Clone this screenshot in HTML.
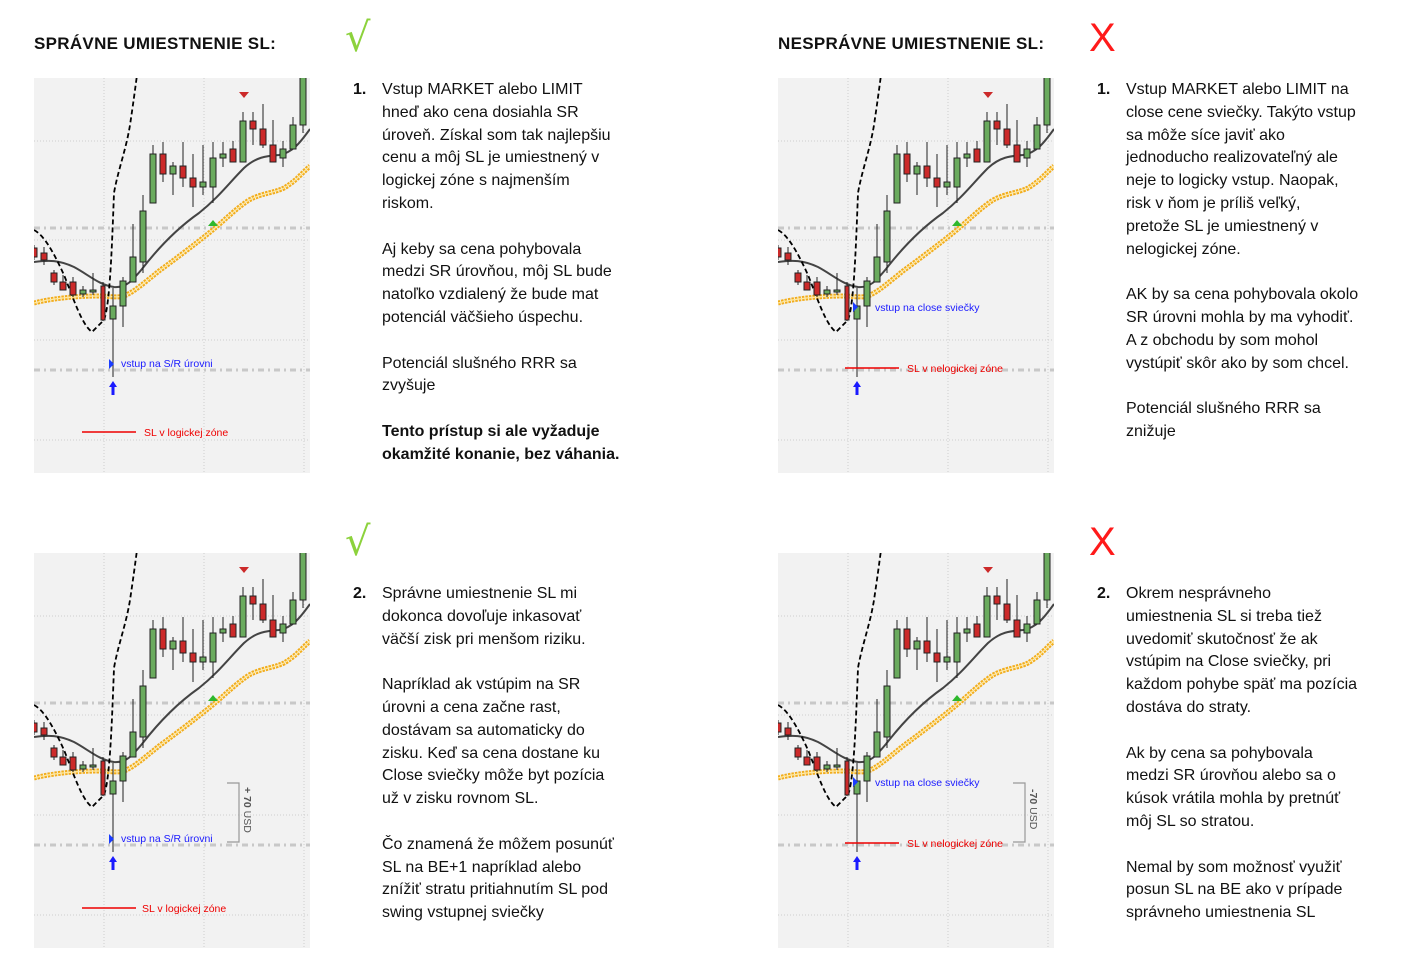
<!DOCTYPE html>
<html><head><meta charset="utf-8">
<style>
html,body{margin:0;padding:0;background:#fff;}
body{width:1426px;height:971px;position:relative;overflow:hidden;font-family:"Liberation Sans",sans-serif;}
.h{position:absolute;font-weight:bold;font-size:17px;color:#111;letter-spacing:0.3px;}
.ok{position:absolute;color:#8cd23c;font-size:40px;font-family:"DejaVu Sans",sans-serif;line-height:40px;}
.x{position:absolute;color:#ff1a1a;font-size:40px;line-height:40px;}
.t{position:absolute;font-size:16px;line-height:22.8px;color:#111;white-space:nowrap;}
.n{position:absolute;font-weight:bold;font-size:16px;line-height:22.8px;color:#111;}
svg{position:absolute;left:0;top:0;}
</style></head><body>
<svg width="1426" height="971" viewBox="0 0 1426 971">
<defs>
<clipPath id="cp"><rect x="0" y="3" width="276" height="395"/></clipPath>
<symbol id="c" viewBox="0 0 276 400" width="276" height="400" overflow="hidden">
<g clip-path="url(#cp)">
<rect x="0" y="3" width="276" height="395" fill="#f2f2f2"/>
<g stroke="#cfcfcf" stroke-width="1" stroke-dasharray="1,2">
<line x1="70" y1="3" x2="70" y2="398"/><line x1="170" y1="3" x2="170" y2="398"/><line x1="270" y1="3" x2="270" y2="398"/>
<line x1="0" y1="66" x2="276" y2="66"/><line x1="0" y1="165" x2="276" y2="165"/><line x1="0" y1="265" x2="276" y2="265"/><line x1="0" y1="365" x2="276" y2="365"/>
</g>
<g stroke="#c8c8c8" stroke-width="3" stroke-dasharray="6,4,2,4">
<line x1="0" y1="153" x2="276" y2="153"/><line x1="0" y1="295" x2="276" y2="295"/>
</g>
<path d="M0,228 C15,224 40,221 65,221 C75,221 82,223 90,221 C100,217 110,208 125,196 C140,185 160,170 175,158 C190,146 200,135 215,125 C228,118 240,118 250,113 C262,106 268,98 276,91" fill="none" stroke="#f2ad1c" stroke-width="5" stroke-dasharray="2.5,1"/>
<path d="M0,228 C15,224 40,221 65,221 C75,221 82,223 90,221 C100,217 110,208 125,196 C140,185 160,170 175,158 C190,146 200,135 215,125 C228,118 240,118 250,113 C262,106 268,98 276,91" fill="none" stroke="#ffe9a0" stroke-width="1.2"/>
<path d="M0,187 C15,185 25,185 40,192 C55,200 65,210 80,212 C92,213 98,206 108,194 C125,172 145,152 165,138 C185,122 195,108 210,93 C222,82 232,81 245,80 C258,78 266,68 276,54" fill="none" stroke="#444" stroke-width="2"/>
<path d="M0,155 C10,160 20,178 30,200 C40,225 48,250 58,257 L70,245 C76,230 78,170 80,118 C84,95 92,75 96,50 C99,30 101,15 103,0" fill="none" stroke="#000" stroke-width="1.8" stroke-dasharray="5,3"/>
<g stroke="#222" stroke-width="1">
<line x1="0" y1="170" x2="0" y2="185"/><rect x="-3" y="173" width="6" height="9" fill="#cc2a2a"/>
<line x1="10" y1="172" x2="10" y2="190"/><rect x="7" y="178" width="6" height="7" fill="#cc2a2a"/>
<line x1="20" y1="195" x2="20" y2="210"/><rect x="17" y="198" width="6" height="9" fill="#cc2a2a"/>
<line x1="29" y1="200" x2="29" y2="215"/><rect x="26" y="207" width="6" height="8" fill="#cc2a2a"/>
<line x1="39" y1="202" x2="39" y2="222"/><rect x="36" y="207" width="6" height="13" fill="#cc2a2a"/>
<line x1="49" y1="211" x2="49" y2="222"/><rect x="46" y="215" width="6" height="4" fill="#6aab5e"/>
<line x1="59" y1="198" x2="59" y2="220"/><rect x="56" y="215" width="6" height="2" fill="#6aab5e"/>
<line x1="69" y1="207" x2="69" y2="246"/><rect x="67" y="211" width="4" height="34" fill="#cc2a2a"/>
<line x1="79" y1="213" x2="79" y2="302"/><rect x="76" y="231" width="6" height="13" fill="#6aab5e"/>
<line x1="89" y1="202" x2="89" y2="252"/><rect x="86" y="206" width="6" height="25" fill="#6aab5e"/>
<line x1="99" y1="149" x2="99" y2="207"/><rect x="96" y="182" width="6" height="25" fill="#6aab5e"/>
<line x1="109" y1="120" x2="109" y2="198"/><rect x="106" y="136" width="6" height="51" fill="#6aab5e"/>
<line x1="119" y1="70" x2="119" y2="128"/><rect x="116" y="79" width="6" height="49" fill="#6aab5e"/>
<line x1="129" y1="67" x2="129" y2="107"/><rect x="126" y="79" width="6" height="20" fill="#cc2a2a"/>
<line x1="139" y1="87" x2="139" y2="120"/><rect x="136" y="91" width="6" height="8" fill="#6aab5e"/>
<line x1="149" y1="67" x2="149" y2="112"/><rect x="146" y="91" width="6" height="12" fill="#cc2a2a"/>
<line x1="159" y1="79" x2="159" y2="132"/><rect x="156" y="103" width="6" height="9" fill="#cc2a2a"/>
<line x1="169" y1="70" x2="169" y2="120"/><rect x="166" y="107" width="6" height="5" fill="#6aab5e"/>
<line x1="179" y1="67" x2="179" y2="128"/><rect x="176" y="83" width="6" height="29" fill="#6aab5e"/>
<line x1="189" y1="67" x2="189" y2="92"/><rect x="186" y="79" width="6" height="4" fill="#6aab5e"/>
<line x1="199" y1="66" x2="199" y2="87"/><rect x="196" y="74" width="6" height="13" fill="#cc2a2a"/>
<line x1="209" y1="37" x2="209" y2="87"/><rect x="206" y="46" width="6" height="41" fill="#6aab5e"/>
<line x1="219" y1="37" x2="219" y2="70"/><rect x="216" y="46" width="6" height="8" fill="#cc2a2a"/>
<line x1="229" y1="29" x2="229" y2="73"/><rect x="226" y="54" width="6" height="16" fill="#cc2a2a"/>
<line x1="239" y1="45" x2="239" y2="87"/><rect x="236" y="70" width="6" height="17" fill="#cc2a2a"/>
<line x1="249" y1="66" x2="249" y2="92"/><rect x="246" y="74" width="6" height="9" fill="#6aab5e"/>
<line x1="259" y1="42" x2="259" y2="74"/><rect x="256" y="50" width="6" height="24" fill="#6aab5e"/>
<line x1="269" y1="0" x2="269" y2="58"/><rect x="266" y="-5" width="6" height="55" fill="#6aab5e"/>
</g>
<polygon points="205,17 215,17 210,23" fill="#cc2a2a"/>
<polygon points="174,151 184,151 179,145" fill="#2db82d"/>
</g>
</symbol>
</defs>
<use href="#c" x="34" y="75"/>
<use href="#c" x="778" y="75"/>
<use href="#c" x="34" y="550"/>
<use href="#c" x="778" y="550"/>

<g transform="translate(34,75)">
<polygon points="75,284 75,294 80,289" fill="#1a3cff"/>
<text x="87" y="292" font-size="10.5" fill="#1a1aff" font-family="Liberation Sans">vstup na S/R úrovni</text>
<path d="M79,306 L75,312 L77.5,312 L77.5,320 L80.5,320 L80.5,312 L83,312 Z" fill="#1a1aff"/>
<line x1="48" y1="357" x2="102" y2="357" stroke="#e00" stroke-width="1.5"/>
<text x="110" y="361" font-size="10.5" fill="#e00" font-family="Liberation Sans">SL v logickej zóne</text>
</g>
<g transform="translate(34,550)">
<polygon points="75,284 75,294 80,289" fill="#1a3cff"/>
<text x="87" y="292" font-size="10.5" fill="#1a1aff" font-family="Liberation Sans">vstup na S/R úrovni</text>
<path d="M79,306 L75,312 L77.5,312 L77.5,320 L80.5,320 L80.5,312 L83,312 Z" fill="#1a1aff"/>
<line x1="48" y1="358" x2="102" y2="358" stroke="#e00" stroke-width="1.5"/>
<text x="108" y="362" font-size="10.5" fill="#e00" font-family="Liberation Sans">SL v logickej zóne</text>
<path d="M193,233 L205,233 L205,292 L193,292" fill="none" stroke="#999" stroke-width="1.2"/>
<text transform="translate(210,237) rotate(90)" font-size="10.5" fill="#555" font-family="Liberation Sans"><tspan font-weight="bold">+ 70</tspan> USD</text>
</g>
<g transform="translate(778,75)">
<polygon points="75,227 75,237 80,232" fill="#1a3cff"/>
<text x="97" y="236" font-size="10.5" fill="#1a1aff" font-family="Liberation Sans">vstup na close sviečky</text>
<path d="M79,306 L75,312 L77.5,312 L77.5,320 L80.5,320 L80.5,312 L83,312 Z" fill="#1a1aff"/>
<line x1="67" y1="293" x2="121" y2="293" stroke="#e00" stroke-width="1.5"/>
<text x="129" y="297" font-size="10.5" fill="#e00" font-family="Liberation Sans">SL v nelogickej zóne</text>
</g>
<g transform="translate(778,550)">
<polygon points="75,227 75,237 80,232" fill="#1a3cff"/>
<text x="97" y="236" font-size="10.5" fill="#1a1aff" font-family="Liberation Sans">vstup na close sviečky</text>
<path d="M79,306 L75,312 L77.5,312 L77.5,320 L80.5,320 L80.5,312 L83,312 Z" fill="#1a1aff"/>
<line x1="67" y1="293" x2="121" y2="293" stroke="#e00" stroke-width="1.5"/>
<text x="129" y="297" font-size="10.5" fill="#e00" font-family="Liberation Sans">SL v nelogickej zóne</text>
<path d="M235,233 L247,233 L247,292 L235,292" fill="none" stroke="#999" stroke-width="1.2"/>
<text transform="translate(252,239) rotate(90)" font-size="10.5" fill="#555" font-family="Liberation Sans"><tspan font-weight="bold">-70</tspan> USD</text>
</g>
</svg>

<div class="h" style="left:34px;top:34px;">SPRÁVNE UMIESTNENIE SL:</div>
<div class="h" style="left:778px;top:34px;">NESPRÁVNE UMIESTNENIE SL:</div>
<div class="ok" style="left:345px;top:18px;">√</div>
<div class="ok" style="left:345px;top:522px;">√</div>
<div class="x" style="left:1089px;top:18px;">X</div>
<div class="x" style="left:1089px;top:522px;">X</div>

<div class="n" style="left:353px;top:79px;">1.</div>
<div class="t" style="left:382px;top:79px;">Vstup MARKET alebo LIMIT<br>hneď ako cena dosiahla SR<br>úroveň. Získal som tak najlepšiu<br>cenu a môj SL je umiestnený v<br>logickej zóne s najmenším<br>riskom.<br><br>Aj keby sa cena pohybovala<br>medzi SR úrovňou, môj SL bude<br>natoľko vzdialený že bude mat<br>potenciál väčšieho úspechu.<br><br>Potenciál slušného RRR sa<br>zvyšuje<br><br><b>Tento prístup si ale vyžaduje<br>okamžité konanie, bez váhania.</b></div>

<div class="n" style="left:1097px;top:79px;">1.</div>
<div class="t" style="left:1126px;top:79px;">Vstup MARKET alebo LIMIT na<br>close cene sviečky. Takýto vstup<br>sa môže síce javiť ako<br>jednoducho realizovateľný ale<br>neje to logicky vstup. Naopak,<br>risk v ňom je príliš veľký,<br>pretože SL je umiestnený v<br>nelogickej zóne.<br><br>AK by sa cena pohybovala okolo<br>SR úrovni mohla by ma vyhodiť.<br>A z obchodu by som mohol<br>vystúpiť skôr ako by som chcel.<br><br>Potenciál slušného RRR sa<br>znižuje</div>

<div class="n" style="left:353px;top:583px;">2.</div>
<div class="t" style="left:382px;top:583px;">Správne umiestnenie SL mi<br>dokonca dovoľuje inkasovať<br>väčší zisk pri menšom riziku.<br><br>Napríklad ak vstúpim na SR<br>úrovni a cena začne rast,<br>dostávam sa automaticky do<br>zisku. Keď sa cena dostane ku<br>Close sviečky môže byt pozícia<br>už v zisku rovnom SL.<br><br>Čo znamená že môžem posunúť<br>SL na BE+1 napríklad alebo<br>znížiť stratu pritiahnutím SL pod<br>swing vstupnej sviečky</div>

<div class="n" style="left:1097px;top:583px;">2.</div>
<div class="t" style="left:1126px;top:583px;">Okrem nesprávneho<br>umiestnenia SL si treba tiež<br>uvedomiť skutočnosť že ak<br>vstúpim na Close sviečky, pri<br>každom pohybe späť ma pozícia<br>dostáva do straty.<br><br>Ak by cena sa pohybovala<br>medzi SR úrovňou alebo sa o<br>kúsok vrátila mohla by pretnúť<br>môj SL so stratou.<br><br>Nemal by som možnosť využiť<br>posun SL na BE ako v prípade<br>správneho umiestnenia SL</div>
</body></html>
